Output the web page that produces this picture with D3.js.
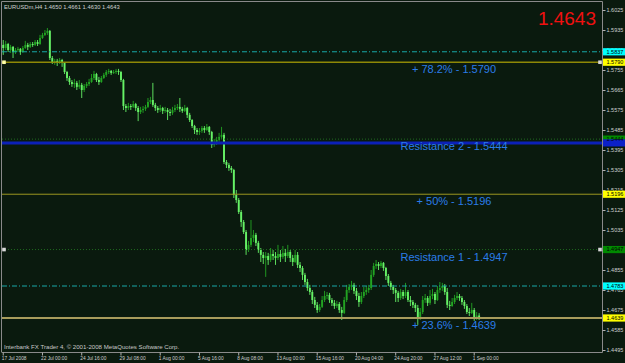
<!DOCTYPE html>
<html>
<head>
<meta charset="utf-8">
<script src="https://cdn.jsdelivr.net/npm/d3@7"></script>
<style>
  body { margin: 0; background: #0a1a0e; }
  svg { display: block; font-family: "Liberation Sans", Arial, sans-serif; }
</style>
</head>
<body>
<div id="chart"></div>
<script>
// EURUSDm H4 candles, 17 Jul - 1 Sep 2008

const symbolTitle = "EURUSDm,H4  1.4650 1.4661 1.4630 1.4643";
const lastPrice = "1.4643";
const credit = "Interbank FX Trader 4, \u00a9 2001-2008 MetaQuotes Software Corp.";

// open of the first bar; each later open is the previous close
const firstOpen = 1.5868;

const closes = [
  1.5854, 1.5872, 1.5845, 1.5859, 1.5836, 1.5845, 1.5850, 1.5836, 1.5854, 1.5868,
  1.5859, 1.5872, 1.5868, 1.5881, 1.5872, 1.5899, 1.5913, 1.5922, 1.5931, 1.5809,
  1.5791, 1.5796, 1.5787, 1.5800, 1.5787, 1.5746, 1.5719, 1.5701, 1.5692, 1.5697,
  1.5679, 1.5688, 1.5665, 1.5683, 1.5692, 1.5701, 1.5719, 1.5737, 1.5710, 1.5701,
  1.5719, 1.5733, 1.5746, 1.5751, 1.5742, 1.5746, 1.5751, 1.5746, 1.5710, 1.5593,
  1.5584, 1.5593, 1.5589, 1.5602, 1.5584, 1.5566, 1.5575, 1.5580, 1.5589, 1.5611,
  1.5620, 1.5598, 1.5584, 1.5575, 1.5584, 1.5571, 1.5575, 1.5566, 1.5562, 1.5575,
  1.5584, 1.5589, 1.5580, 1.5571, 1.5584, 1.5553, 1.5530, 1.5503, 1.5485, 1.5476,
  1.5481, 1.5494, 1.5485, 1.5499, 1.5476, 1.5418, 1.5427, 1.5440, 1.5454, 1.5463,
  1.5341, 1.5328, 1.5314, 1.5305, 1.5193, 1.5170, 1.5116, 1.5071, 1.5026, 1.4945,
  1.4968, 1.4999, 1.5013, 1.4977, 1.4945, 1.4923, 1.4909, 1.4918, 1.4900, 1.4927,
  1.4918, 1.4909, 1.4927, 1.4914, 1.4932, 1.4918, 1.4936, 1.4909, 1.4891, 1.4923,
  1.4878, 1.4864, 1.4833, 1.4801, 1.4774, 1.4756, 1.4720, 1.4698, 1.4675, 1.4689,
  1.4720, 1.4738, 1.4743, 1.4720, 1.4707, 1.4693, 1.4702, 1.4675, 1.4662, 1.4720,
  1.4765, 1.4779, 1.4788, 1.4761, 1.4738, 1.4711, 1.4738, 1.4756, 1.4765, 1.4774,
  1.4833, 1.4873, 1.4882, 1.4873, 1.4887, 1.4864, 1.4828, 1.4797, 1.4779, 1.4765,
  1.4752, 1.4729, 1.4756, 1.4738, 1.4756, 1.4720, 1.4711, 1.4698, 1.4684, 1.4639,
  1.4666, 1.4720, 1.4729, 1.4707, 1.4738, 1.4747, 1.4720, 1.4765, 1.4774, 1.4783,
  1.4756, 1.4698, 1.4693, 1.4711, 1.4729, 1.4738, 1.4729, 1.4711, 1.4693, 1.4666,
  1.4662, 1.4675, 1.4639, 1.4650, 1.4643
];

const highs = [
  1.5890, 1.5886, 1.5877, 1.5868, 1.5863, 1.5854, 1.5859, 1.5854, 1.5863, 1.5886,
  1.5877, 1.5881, 1.5881, 1.5890, 1.5890, 1.5913, 1.5922, 1.5935, 1.5944, 1.5935,
  1.5818, 1.5805, 1.5805, 1.5809, 1.5805, 1.5791, 1.5751, 1.5728, 1.5710, 1.5715,
  1.5706, 1.5710, 1.5697, 1.5692, 1.5701, 1.5715, 1.5737, 1.5751, 1.5742, 1.5724,
  1.5728, 1.5742, 1.5755, 1.5760, 1.5755, 1.5755, 1.5760, 1.5760, 1.5751, 1.5715,
  1.5602, 1.5607, 1.5602, 1.5616, 1.5607, 1.5593, 1.5589, 1.5593, 1.5598, 1.5629,
  1.5634, 1.5697, 1.5607, 1.5593, 1.5598, 1.5589, 1.5589, 1.5584, 1.5580, 1.5589,
  1.5598, 1.5602, 1.5629, 1.5589, 1.5598, 1.5589, 1.5562, 1.5534, 1.5508, 1.5494,
  1.5494, 1.5503, 1.5503, 1.5512, 1.5503, 1.5481, 1.5445, 1.5454, 1.5472, 1.5499,
  1.5472, 1.5350, 1.5337, 1.5323, 1.5310, 1.5215, 1.5179, 1.5125, 1.5080, 1.5035,
  1.4986, 1.5080, 1.5035, 1.5022, 1.4986, 1.4954, 1.4936, 1.4936, 1.4932, 1.4954,
  1.4945, 1.4936, 1.4968, 1.4945, 1.4963, 1.4950, 1.4968, 1.4945, 1.4923, 1.4945,
  1.4936, 1.4891, 1.4873, 1.4842, 1.4815, 1.4788, 1.4765, 1.4734, 1.4711, 1.4702,
  1.4738, 1.4761, 1.4756, 1.4752, 1.4729, 1.4720, 1.4716, 1.4711, 1.4689, 1.4734,
  1.4788, 1.4792, 1.4806, 1.4797, 1.4774, 1.4752, 1.4756, 1.4779, 1.4783, 1.4788,
  1.4855, 1.4887, 1.4900, 1.4891, 1.4896, 1.4891, 1.4869, 1.4837, 1.4806, 1.4788,
  1.4774, 1.4761, 1.4770, 1.4765, 1.4797, 1.4765, 1.4738, 1.4720, 1.4707, 1.4698,
  1.4684, 1.4738, 1.4747, 1.4738, 1.4765, 1.4770, 1.4756, 1.4783, 1.4801, 1.4797,
  1.4792, 1.4774, 1.4716, 1.4729, 1.4743, 1.4756, 1.4747, 1.4738, 1.4720, 1.4702,
  1.4684, 1.4707, 1.4684, 1.4666, 1.4661
];

const lows = [
  1.5823, 1.5845, 1.5836, 1.5832, 1.5809, 1.5827, 1.5836, 1.5823, 1.5832, 1.5850,
  1.5845, 1.5854, 1.5859, 1.5863, 1.5863, 1.5868, 1.5895, 1.5908, 1.5913, 1.5800,
  1.5782, 1.5778, 1.5773, 1.5782, 1.5769, 1.5737, 1.5706, 1.5688, 1.5679, 1.5674,
  1.5665, 1.5670, 1.5629, 1.5656, 1.5674, 1.5683, 1.5697, 1.5710, 1.5701, 1.5688,
  1.5697, 1.5715, 1.5724, 1.5737, 1.5733, 1.5737, 1.5737, 1.5733, 1.5701, 1.5575,
  1.5566, 1.5575, 1.5575, 1.5584, 1.5571, 1.5525, 1.5557, 1.5562, 1.5571, 1.5584,
  1.5602, 1.5589, 1.5571, 1.5562, 1.5566, 1.5557, 1.5562, 1.5530, 1.5548, 1.5553,
  1.5566, 1.5575, 1.5566, 1.5562, 1.5566, 1.5539, 1.5521, 1.5494, 1.5467, 1.5463,
  1.5463, 1.5472, 1.5472, 1.5481, 1.5463, 1.5404, 1.5409, 1.5418, 1.5432, 1.5445,
  1.5332, 1.5314, 1.5301, 1.5292, 1.5179, 1.5157, 1.5107, 1.5049, 1.5017, 1.4923,
  1.4936, 1.4958, 1.4981, 1.4963, 1.4932, 1.4891, 1.4882, 1.4824, 1.4878, 1.4891,
  1.4900, 1.4878, 1.4900, 1.4891, 1.4905, 1.4891, 1.4909, 1.4891, 1.4873, 1.4887,
  1.4864, 1.4846, 1.4810, 1.4788, 1.4761, 1.4743, 1.4702, 1.4684, 1.4662, 1.4666,
  1.4684, 1.4711, 1.4724, 1.4707, 1.4693, 1.4680, 1.4684, 1.4662, 1.4630, 1.4657,
  1.4711, 1.4752, 1.4765, 1.4747, 1.4720, 1.4689, 1.4702, 1.4729, 1.4743, 1.4752,
  1.4765, 1.4824, 1.4860, 1.4855, 1.4864, 1.4851, 1.4810, 1.4783, 1.4765, 1.4747,
  1.4711, 1.4711, 1.4720, 1.4724, 1.4729, 1.4711, 1.4693, 1.4684, 1.4666, 1.4608,
  1.4630, 1.4657, 1.4707, 1.4693, 1.4698, 1.4724, 1.4702, 1.4716, 1.4752, 1.4761,
  1.4743, 1.4684, 1.4675, 1.4689, 1.4702, 1.4720, 1.4716, 1.4698, 1.4680, 1.4657,
  1.4648, 1.4657, 1.4626, 1.4630, 1.4630
];

// price scale labels on the right
const priceTicks = [1.6025, 1.5935, 1.5845, 1.5755, 1.5665, 1.5575, 1.5485, 1.5395, 1.5305,
  1.5215, 1.5125, 1.5035, 1.4945, 1.4855, 1.4765, 1.4675, 1.4585, 1.4495];

// time scale labels, one every 16 bars
const timeIdx = [0, 16, 32, 48, 64, 80, 96, 112, 128, 144, 160, 176, 192];
const timeLabels = ["17 Jul 2008", "22 Jul 00:00", "24 Jul 16:00", "29 Jul 08:00", "1 Aug 00:00",
  "5 Aug 16:00", "8 Aug 08:00", "13 Aug 00:00", "15 Aug 16:00", "20 Aug 04:00",
  "24 Aug 20:00", "27 Aug 12:00", "1 Sep 00:00"];

// horizontal level lines
const levelPrices = [1.5837, 1.5790, 1.5444, 1.5427, 1.5196, 1.4947, 1.4783, 1.4639];
const levelKinds = ["cyan", "olive", "green", "blue", "yellow", "green", "cyan", "khaki"];

// text labels on the levels
const noteTexts = ["+ 78.2% - 1.5790", "Resistance 2 - 1.5444", "+ 50% - 1.5196",
  "Resistance 1 - 1.4947", "+ 23.6% - 1.4639"];
const notePrices = [1.5790, 1.5444, 1.5196, 1.4947, 1.4639];

// line end markers
const markerPrices = [1.5790, 1.4947];

// styles per level kind
const kindStyle = {
  cyan:   {stroke: "#18a8a8", width: 1, dash: "5,2,1,2", box: "#00ffff", label: true},
  olive:  {stroke: "#8e8806", width: 1.5, dash: null, box: "#ffff00", label: true},
  green:  {stroke: "#1f6a1f", width: 1, dash: "1,2", box: "#008a00", label: true},
  blue:   {stroke: "#0c20b8", width: 3, dash: null, box: "#0c20c8", label: false},
  yellow: {stroke: "#9c9620", width: 1, dash: null, box: "#ffff00", label: true},
  khaki:  {stroke: "#a89c5c", width: 2, dash: null, box: "#ffff00", label: true}
};

const W = 625, H = 363;
const pL = 2, pR = 602, pT = 2, pB = 352; // plot edges
const bg = "#0a1a0e";
const bullCol = "#22a422", bearCol = "#66f266";

const svg = d3.select("#chart").
append("svg").
attr("width", W).
attr("height", H);

svg.append("rect").
attr("width", W).
attr("height", H).
attr("fill", bg);

// Scales
const x = d3.scaleBand().
domain(d3.range(245)).
range([pL, pR + 1]);

const y = d3.scaleLinear().
domain([1.4486, 1.6061]).
range([pB, pT]);

const bw = x.bandwidth();
const cx = i => x(i) + bw / 2;

// Frame
svg.append("path").
attr("d", `M${pL - 0.5},${pB} V1.5 H${pR + 0.5} V${pB + 0.5} H${pL - 0.5}`).
attr("fill", "none").
attr("stroke", "#8a8a8a").
attr("stroke-width", 1);

// Right price axis
const yAxis = svg.append("g").
attr("transform", `translate(${pR + 0.5} 0)`).
call(d3.axisRight(y).
tickValues(priceTicks).
tickSize(3).
tickFormat(d3.format(".4f")));

yAxis.select(".domain").remove();
yAxis.selectAll("line").attr("stroke", "#b0b0b0");
yAxis.selectAll("text").
attr("x", 4).
attr("dy", "0.35em").
attr("fill", "#d0d0d0").
style("font-size", "5.5px").
style("font-family", "'Liberation Sans', Arial, sans-serif");

// Bottom time axis
const xAxis = svg.append("g").
attr("transform", `translate(0 ${pB + 0.5})`).
call(d3.axisBottom(x).
tickValues(timeIdx).
tickSize(3).
tickFormat((d, i) => timeLabels[i]));

xAxis.select(".domain").remove();
xAxis.selectAll("line").attr("stroke", "#b0b0b0");
xAxis.selectAll("text").
attr("text-anchor", "start").
attr("x", -1.5).
attr("y", 7.5).
attr("dy", 0).
attr("fill", "#d0d0d0").
style("font-size", "4.8px").
style("font-family", "'Liberation Sans', Arial, sans-serif");

// Candles
const bars = closes.map((c, i) => ({
  i: i,
  o: i === 0 ? firstOpen : closes[i - 1],
  h: highs[i],
  l: lows[i],
  c: c
}));

const candles = svg.append("g");

candles.selectAll("line").
data(bars).
join("line").
attr("x1", d => cx(d.i)).
attr("x2", d => cx(d.i)).
attr("y1", d => y(d.h)).
attr("y2", d => y(d.l)).
attr("stroke", d => d.c < d.o ? bearCol : bullCol).
attr("stroke-width", 0.9);

candles.selectAll("rect").
data(bars).
join("rect").
attr("x", d => cx(d.i) - 0.95).
attr("width", 1.9).
attr("y", d => y(Math.max(d.o, d.c))).
attr("height", d => Math.max(1, Math.abs(y(d.o) - y(d.c)))).
attr("fill", d => d.c < d.o ? bearCol : bullCol);

// Level lines
const levels = levelPrices.map((p, i) => ({p: p, s: kindStyle[levelKinds[i]]}));

svg.append("g").
selectAll("line").
data(levels).
join("line").
attr("x1", pL).
attr("x2", pR).
attr("y1", d => y(d.p)).
attr("y2", d => y(d.p)).
attr("stroke", d => d.s.stroke).
attr("stroke-width", d => d.s.width).
attr("stroke-dasharray", d => d.s.dash);

// Price boxes on the axis
const boxes = svg.append("g");
boxes.selectAll("rect").
data(levels).
join("rect").
attr("x", pR + 1).
attr("width", W - pR - 1).
attr("y", d => y(d.p) - 3.6).
attr("height", 7.2).
attr("fill", d => d.s.box);

boxes.selectAll("text").
data(levels.filter(d => d.s.label)).
join("text").
attr("x", pR + 4.5).
attr("y", d => y(d.p)).
attr("dy", "0.35em").
attr("fill", "#000").
style("font-size", "5.5px").
text(d => d3.format(".4f")(d.p));

// End markers
[pL + 2, pR - 2].forEach((mx, k) => {
  svg.append("g").
  selectAll("rect").
  data(markerPrices).
  join("rect").
  attr("x", mx - 1.8).
  attr("y", d => y(d) - 1.8).
  attr("width", 3.6).
  attr("height", 3.6).
  attr("fill", (d, i) => k === 0 && i === 0 ? "#ffffa8" : "#d8d8d8");
});

// Level notes
svg.append("g").
selectAll("text").
data(noteTexts).
join("text").
attr("x", 454).
attr("y", (d, i) => y(notePrices[i]) + 11).
attr("text-anchor", "middle").
attr("fill", "#2b7de9").
style("font-size", "11px").
text(d => d);

// Title, last price, credit
svg.append("text").
attr("x", 4).
attr("y", 8.5).
attr("fill", "#d0d0d0").
style("font-size", "5.8px").
text(symbolTitle);

svg.append("text").
attr("x", 596).
attr("y", 25).
attr("text-anchor", "end").
attr("fill", "#f01010").
style("font-size", "19px").
text(lastPrice);

svg.append("text").
attr("x", 4).
attr("y", 349).
attr("fill", "#c8c8c8").
style("font-size", "6.1px").
text(credit);
</script>
</body>
</html>
